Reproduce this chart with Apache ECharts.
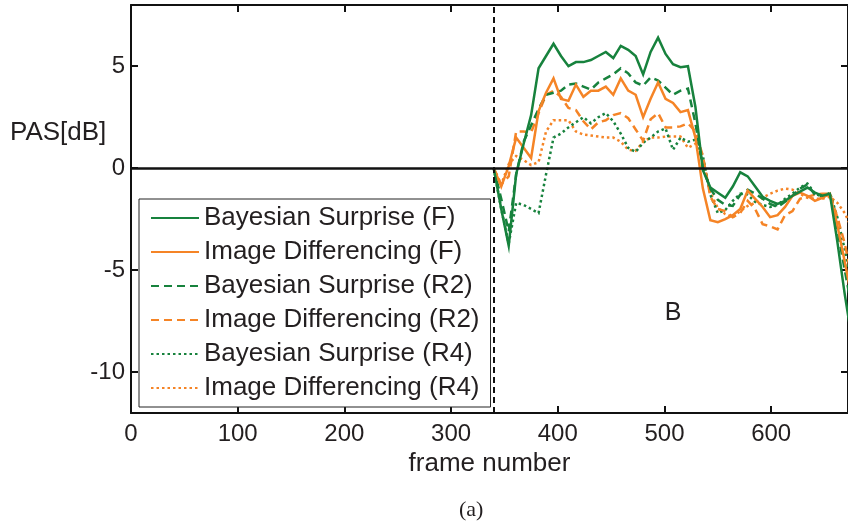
<!DOCTYPE html>
<html>
<head>
<meta charset="utf-8">
<script src="https://cdn.jsdelivr.net/npm/echarts@6/dist/echarts.min.js"></script>
<style>
  html, body { margin: 0; padding: 0; background: #ffffff; }
  #chart { width: 848px; height: 525px; }
</style>
</head>
<body>
<div id="chart"></div>
<script>
// Frame numbers at which the PAS curves are sampled
const frames = [340, 347, 354, 361, 368, 375, 382, 389, 396, 403, 410, 417, 424, 431, 438, 445,
  452, 459, 466, 473, 480, 487, 494, 501, 508, 515, 522, 529, 536, 543, 550, 557, 564, 571,
  578, 585, 592, 599, 606, 613, 620, 627, 634, 641, 648, 655, 662, 669, 676];

// PAS [dB] per method and resolution
const bayesF = [0, -2.0, -3.8, -0.3, 1.2, 2.6, 4.9, 5.5, 6.1, 5.5, 5.0, 5.2, 5.2, 5.3, 5.5, 5.7,
  5.4, 6.0, 5.8, 5.5, 4.6, 5.7, 6.4, 5.6, 5.1, 4.95, 5.0, 3.0, -0.1, -0.95, -1.2, -1.45, -0.9, -0.2,
  -0.4, -0.9, -1.4, -1.6, -1.75, -1.6, -1.35, -1.15, -0.95, -1.2, -1.35, -1.25, -3.6, -6.2, -8.5];
const diffF = [0, -0.9, 0.1, 1.5, 1.0, 0.5, 2.8, 3.7, 4.4, 3.4, 3.3, 4.1, 3.5, 3.8, 3.8, 4.0,
  3.6, 4.4, 3.8, 3.6, 2.5, 3.4, 4.2, 3.4, 3.2, 2.75, 2.85, 1.5, -1.0, -2.55, -2.65, -2.5, -2.3, -2.0,
  -1.1, -1.5, -1.9, -2.4, -2.3, -1.9, -1.35, -1.2, -1.35, -1.6, -1.45, -1.25, -2.8, -4.6, -6.5];
const bayesR2 = [0, -1.5, -3.1, -0.3, 1.3, 2.1, 2.9, 3.6, 3.7, 3.8, 4.1, 4.15, 4.0, 3.85, 4.2, 4.4,
  4.6, 4.9, 4.65, 4.2, 4.05, 4.45, 4.3, 3.95, 3.6, 3.8, 3.9, 2.2, 0.0, -1.0, -1.55, -1.8, -1.85, -1.3,
  -1.05, -1.25, -1.5, -1.75, -1.9, -1.65, -1.35, -1.0, -0.8, -1.3, -1.4, -1.25, -3.0, -5.0, -7.0];
const diffR2 = [0, -0.8, -0.4, 1.8, 1.8, 1.75, 2.7, 3.6, 3.8, 3.5, 2.95, 2.85, 2.3, 1.9, 2.25, 2.35,
  2.6, 2.7, 2.45, 1.9, 1.35, 2.4, 2.7, 2.0, 2.0, 2.05, 2.2, 1.8, 0.6, -1.4, -2.0, -2.1, -2.4, -2.2,
  -1.6, -2.0, -2.75, -2.85, -3.0, -2.3, -2.1, -1.5, -1.4, -1.3, -1.25, -1.25, -2.4, -3.7, -5.5];
const bayesR4 = [0, -2.0, -3.7, -1.7, -1.8, -2.0, -2.2, -0.3, 1.5, 1.7, 2.0, 2.25, 2.5, 2.2, 2.5, 2.7,
  2.3, 1.7, 1.0, 0.8, 1.25, 1.5, 1.8, 1.95, 0.9, 1.5, 1.3, 1.4, 0.6, -1.3, -2.2, -2.05, -1.6, -1.25,
  -1.3, -1.65, -1.8, -1.9, -1.8, -1.5, -1.25, -0.95, -0.75, -1.25, -1.4, -1.2, -2.4, -4.0, -6.0];
const diffR4 = [0, -0.8, 0.2, 0.6, 0.4, 0.15, 0.3, 1.8, 2.35, 2.35, 2.35, 1.8, 1.65, 1.6, 1.55, 1.5,
  1.5, 1.3, 0.9, 0.85, 1.3, 1.5, 1.5, 1.55, 1.55, 1.55, 1.0, 1.2, 0.3, -1.2, -1.95, -2.25, -2.4, -2.1,
  -1.85, -1.7, -1.45, -1.25, -1.1, -1.0, -1.05, -1.25, -1.45, -1.5, -1.5, -1.4, -1.7, -2.2, -3.0];

const seriesNames = [
  'Bayesian Surprise (F)', 'Image Differencing (F)',
  'Bayesian Surprise (R2)', 'Image Differencing (R2)',
  'Bayesian Surprise (R4)', 'Image Differencing (R4)'
];

// Axis ticks and annotations
const xTicks = [0, 100, 200, 300, 400, 500, 600];
const yTicks = [-10, -5, 0, 5];
const onsetFrame = 340;
const markerLabel = 'B';
const markerPos = [508, -7.1];

const GREEN = '#17823d';
const ORANGE = '#f58426';
const INK = '#231f20';
const FONT = '"Liberation Sans", Arial, Helvetica, sans-serif';

const DASH = [8, 5];
const DOT = [2.5, 3];

function pairs(values) {
  return frames.map((f, i) => [f, values[i]]);
}

function lineSeries(name, values, color, dash, z) {
  return {
    name: name,
    type: 'line',
    data: pairs(values),
    symbol: 'none',
    smooth: false,
    z: z,
    lineStyle: { color: color, width: 2.5, type: dash, cap: 'butt', join: 'miter' },
    itemStyle: { color: color },
    emphasis: { disabled: true },
    animation: false
  };
}

const series = [
  lineSeries(seriesNames[5], diffR4, ORANGE, DOT, 2),
  lineSeries(seriesNames[4], bayesR4, GREEN, DOT, 2),
  lineSeries(seriesNames[3], diffR2, ORANGE, DASH, 3),
  lineSeries(seriesNames[2], bayesR2, GREEN, DASH, 3),
  lineSeries(seriesNames[1], diffF, ORANGE, 'solid', 4),
  lineSeries(seriesNames[0], bayesF, GREEN, 'solid', 4)
];

// Zero reference, onset marker and region label
series[0].markLine = {
  silent: true,
  symbol: 'none',
  animation: false,
  label: { show: false },
  data: [
    { yAxis: 0, lineStyle: { color: '#111', width: 2.5, type: 'solid' } },
    { xAxis: onsetFrame, lineStyle: { color: '#111', width: 2, type: [6, 4] } }
  ]
};
series[0].markPoint = {
  silent: true,
  animation: false,
  symbol: 'circle',
  symbolSize: 0,
  data: [{ coord: markerPos }],
  label: {
    show: true,
    position: 'inside',
    formatter: markerLabel,
    color: INK,
    fontSize: 25,
    fontFamily: FONT
  }
};

const axisLineStyle = { color: '#111', width: 2 };

const option = {
  backgroundColor: '#ffffff',
  animation: false,
  grid: { left: 131, top: 5, right: -2, bottom: 112, containLabel: false },
  legend: {
    data: seriesNames,
    orient: 'vertical',
    left: 139,
    top: 199,
    backgroundColor: '#ffffff',
    borderColor: '#222',
    borderWidth: 1,
    borderRadius: 0,
    padding: [6, 11, 6, 11],
    itemWidth: 48,
    itemHeight: 14,
    itemGap: 8,
    selectedMode: false,
    itemStyle: { opacity: 0 },
    textStyle: { fontSize: 26, lineHeight: 24, color: INK, fontFamily: FONT }
  },
  xAxis: [
    {
      type: 'value',
      min: 0,
      max: 672,
      position: 'bottom',
      name: 'frame number',
      nameLocation: 'middle',
      nameGap: 36,
      nameTextStyle: { fontSize: 26, color: INK, fontFamily: FONT },
      axisLine: { show: true, onZero: false, lineStyle: axisLineStyle },
      axisTick: { show: true, inside: true, length: 7, customValues: xTicks, lineStyle: axisLineStyle },
      axisLabel: { show: true, customValues: xTicks, margin: 9, fontSize: 24, color: INK, fontFamily: FONT },
      splitLine: { show: false }
    },
    {
      type: 'value',
      min: 0,
      max: 672,
      position: 'top',
      axisLine: { show: true, onZero: false, lineStyle: axisLineStyle },
      axisTick: { show: true, inside: true, length: 7, customValues: xTicks, lineStyle: axisLineStyle },
      axisLabel: { show: false },
      splitLine: { show: false }
    }
  ],
  yAxis: [
    {
      type: 'value',
      min: -12,
      max: 8,
      position: 'left',
      axisLine: { show: true, onZero: false, lineStyle: axisLineStyle },
      axisTick: { show: true, inside: true, length: 7, customValues: yTicks, lineStyle: axisLineStyle },
      axisLabel: { show: true, customValues: yTicks, margin: 6, fontSize: 24, color: INK, fontFamily: FONT },
      splitLine: { show: false }
    },
    {
      type: 'value',
      min: -12,
      max: 8,
      position: 'right',
      axisLine: { show: true, onZero: false, lineStyle: axisLineStyle },
      axisTick: { show: true, inside: true, length: 7, customValues: yTicks, lineStyle: axisLineStyle },
      axisLabel: { show: false },
      splitLine: { show: false }
    }
  ],
  graphic: [
    {
      type: 'text',
      left: 10,
      top: 120,
      style: { text: 'PAS[dB]', fontSize: 26, fill: INK, fontFamily: FONT }
    },
    {
      type: 'text',
      left: 459,
      top: 499,
      style: { text: '(a)', fontSize: 22, fill: INK, fontFamily: '"Liberation Serif", "DejaVu Serif", serif' }
    }
  ],
  series: series
};

const chart = echarts.init(document.getElementById('chart'), null, { renderer: 'canvas' });
chart.setOption(option);
</script>
</body>
</html>
